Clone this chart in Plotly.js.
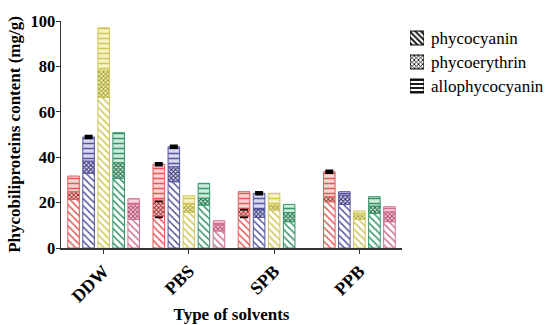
<!DOCTYPE html>
<html><head><meta charset="utf-8">
<script src="https://cdn.plot.ly/plotly-3.0.1.min.js"></script>
<style>html,body{margin:0;padding:0;background:#fff}#chart{width:550px;height:325px}</style>
</head><body><div id="chart"></div>
<script>
const solvents = ['DDW', 'PBS', 'SPB', 'PPB'];
const pigments = ['phycocyanin', 'phycoerythrin', 'allophycocyanin'];
// one row per bar colour (red, purple, yellow, green, pink), one value per solvent
const phycocyanin = [
  [21.4, 14.1, 14.1, 20.4],
  [33.0, 29.2, 13.5, 19.2],
  [66.4, 15.7, 16.7, 12.6],
  [30.7, 18.9, 11.6, 15.3],
  [12.6, 7.5, null, 11.6]
];
const phycoerythrin = [
  [3.4, 7.0, 3.4, 2.2],
  [5.3, 6.6, 3.5, 4.1],
  [11.9, 3.5, 2.2, 1.9],
  [6.9, 3.0, 4.0, 3.2],
  [6.8, 2.9, null, 4.4]
];
const allophycocyanin = [
  [6.9, 15.8, 7.3, 11.0],
  [10.6, 8.8, 7.1, 1.5],
  [18.7, 3.8, 5.2, 1.8],
  [13.2, 6.6, 3.6, 4.1],
  [2.3, 1.6, null, 2.2]
];
const errPC = [
  [null, 0.5, 0.5, null],
  [null, null, null, null],
  [null, null, null, null],
  [null, null, null, null],
  [null, null, null, null]
];
const errPE = [
  [null, 0.5, 0.5, null],
  [null, null, null, null],
  [null, null, null, null],
  [null, null, null, null],
  [null, null, null, null]
];
const errAPC = [
  [null, 0.5, null, 0.5],
  [0.5, 0.5, 0.5, null],
  [null, null, null, null],
  [null, null, null, null],
  [null, null, null, null]
];

const lineCol = ['#e25a5a', '#5656a0', '#cfc65a', '#36956a', '#d07090'];
const darkCol = ['#9a1e1e', '#262668', '#a09a20', '#14603a', '#a83a66'];
const tintCol = ['#fbd3d3', '#d8d8ee', '#f6f2c4', '#cdeadb', '#f9d3dc'];

const values = [phycocyanin, phycoerythrin, allophycocyanin];
const errs = [errPC, errPE, errAPC];
const shapes = ['\\', 'x', '-'];

const font = 'Liberation Serif, Times New Roman, serif';
const traces = [];
for (let c = 0; c < 5; c++) {
  const base = solvents.map(() => 0);
  for (let k = 0; k < 3; k++) {
    const y = values[k][c];
    const b = base.slice();
    const bg = k === 0 ? '#ffffff' : tintCol[c];
    const fg = k === 1 ? darkCol[c] : lineCol[c];
    const e = errs[k][c].map(v => (v === null ? NaN : v));
    const hasErr = e.some(v => !isNaN(v));
    traces.push({
      type: 'bar', x: solvents, y: y, base: b,
      offsetgroup: 'g' + c, showlegend: false, hoverinfo: 'skip',
      marker: {
        color: bg,
        line: {color: lineCol[c], width: 1},
        pattern: {shape: shapes[k], fgcolor: fg, bgcolor: bg,
                  size: k === 1 ? 3 : 5, solidity: k === 1 ? 0.5 : 0.3, fillmode: 'replace'}
      },
      error_y: {type: 'data', array: e, visible: hasErr, color: '#000', thickness: 2.2, width: 4}
    });
    for (let i = 0; i < base.length; i++) base[i] += (y[i] || 0);
  }
}
// legend key: one swatch per pigment in its own small subplot
traces.push({
  type: 'bar', orientation: 'h', xaxis: 'x2', yaxis: 'y2',
  y: pigments, x: pigments.map(() => 1), width: 0.58,
  showlegend: false, hoverinfo: 'skip',
  marker: {color: '#fff', line: {color: '#000', width: 1},
    pattern: {shape: shapes, fgcolor: '#000', bgcolor: '#fff', size: [4, 3, 4], solidity: 0.45, fillmode: 'replace'}}
});

const axFont = {family: font, size: 16.5, color: '#000', weight: 'bold'};
const layout = {
  width: 550, height: 325,
  margin: {l: 61, r: 0, t: 21, b: 77},
  paper_bgcolor: '#fff', plot_bgcolor: 'rgba(0,0,0,0)',
  barmode: 'group', bargap: 0.118, bargroupgap: 0.23,
  font: {family: font, color: '#000'},
  showlegend: false,
  xaxis: {
    domain: [0, 341 / 489],
    type: 'category', range: [-0.5, 3.5], showline: true, linecolor: '#333', linewidth: 1.5,
    ticks: 'outside', ticklen: 4, tickcolor: '#333', tickangle: -45, showgrid: false, zeroline: false,
    tickfont: {family: font, size: 18, color: '#000', weight: 'bold'},
    title: {text: 'Type of solvents', font: {family: font, size: 17, color: '#000', weight: 'bold'}, standoff: 2},
    automargin: false
  },
  yaxis: {
    range: [0, 100], dtick: 20, showline: true, linecolor: '#333', linewidth: 1.5,
    ticks: 'outside', ticklen: 4, tickcolor: '#333', showgrid: false, zeroline: false,
    tickfont: axFont, ticklabelstandoff: -3,
    title: {text: 'Phycobiliproteins content (mg/g)', font: {family: font, size: 17, color: '#000', weight: 'bold'}, standoff: 5},
    automargin: false
  },
  xaxis2: {
    domain: [(410 - 61) / 489, (424 - 61) / 489], anchor: 'y2', range: [0, 1],
    visible: false, fixedrange: true
  },
  yaxis2: {
    domain: [(248 - 98) / 227, (248 - 26) / 227], anchor: 'x2', side: 'right',
    type: 'category', categoryorder: 'array', categoryarray: pigments, range: [2.5, -0.5],
    showline: false, showgrid: false, zeroline: false, ticks: '', ticklabelstandoff: 6,
    tickfont: {family: font, size: 17, color: '#000'}, automargin: false
  }
};
Plotly.newPlot('chart', traces, layout, {displayModeBar: false, staticPlot: true});
</script></body></html>
